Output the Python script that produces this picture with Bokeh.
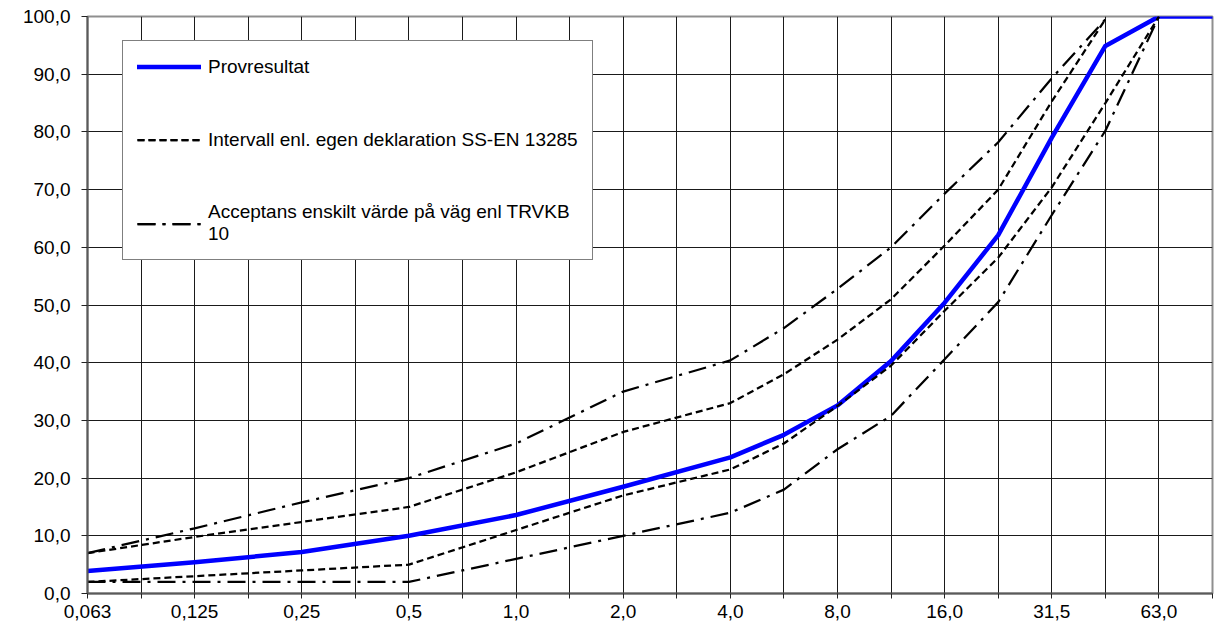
from bokeh.plotting import figure
from bokeh.models import FixedTicker, Legend, LegendItem, ColumnDataSource
from bokeh.embed import file_html
from bokeh.resources import INLINE

# ---- data -------------------------------------------------------------
sieve_sizes = ["0,063", "0,09", "0,125", "0,18", "0,25", "0,355", "0,5", "0,71",
               "1,0", "1,4", "2,0", "2,8", "4,0", "5,6", "8,0", "11,2",
               "16,0", "22,4", "31,5", "45,0", "63,0", "90,0"]
x_tick_labels = ["0,063", "", "0,125", "", "0,25", "", "0,5", "",
                 "1,0", "", "2,0", "", "4,0", "", "8,0", "",
                 "16,0", "", "31,5", "", "63,0", ""]
y_ticks = [0, 10, 20, 30, 40, 50, 60, 70, 80, 90, 100]
y_tick_labels = ["0,0", "10,0", "20,0", "30,0", "40,0", "50,0",
                 "60,0", "70,0", "80,0", "90,0", "100,0"]

data_sieves = ["0,063", "0,125", "0,25", "0,5", "1,0", "2,0", "4,0", "5,6",
               "8,0", "11,2", "16,0", "22,4", "31,5", "45,0", "63,0", "90,0"]
provresultat = [3.9, 5.4, 7.2, 10.0, 13.6, 18.5, 23.6, 27.5,
                32.6, 40.3, 50.4, 62.1, 79.0, 94.9, 100.0, 100.0]
intervall_upper = [7.0, 9.8, 12.4, 15.0, 21.0, 28.0, 33.0, 38.0,
                   44.0, 51.0, 60.3, 70.0, 85.3, 99.5]
intervall_lower = [2.0, 3.0, 4.0, 5.0, 11.0, 17.0, 21.5, 26.0,
                   32.5, 39.5, 49.0, 58.2, 70.4, 85.0, 100.0]
acceptans_upper = [7.0, 11.3, 15.8, 20.0, 26.0, 35.0, 40.4, 46.0,
                   52.8, 60.0, 69.3, 78.2, 89.3, 99.5]
acceptans_lower = [2.0, 2.0, 2.0, 2.0, 6.0, 10.0, 14.0, 18.0,
                   25.0, 30.8, 40.6, 50.5, 65.6, 80.2, 100.0]

labels = ["Provresultat",
          "Intervall enl. egen deklaration SS-EN 13285",
          "Acceptans enskilt värde på väg enl TRVKB\n10"]

# ---- helpers ----------------------------------------------------------
pos = {s: i for i, s in enumerate(sieve_sizes)}


def src(values):
    return ColumnDataSource(dict(x=[pos[s] for s in data_sieves[:len(values)]],
                                 y=values))


FONT = "Liberation Sans"

p = figure(frame_width=1125, frame_height=577,
           x_range=(0, len(sieve_sizes) - 1), y_range=(0, 100),
           output_backend="svg", toolbar_location=None,
           min_border_left=87, min_border_right=3, min_border_top=16,
           min_border_bottom=33, background_fill_color="white",
           border_fill_color="white")

p.outline_line_color = "#8f8f8f"
p.outline_line_width = 2

xt = FixedTicker(ticks=list(range(len(sieve_sizes))))
yt = FixedTicker(ticks=y_ticks)
p.xaxis.ticker = xt
p.yaxis.ticker = yt
p.xgrid.ticker = xt
p.ygrid.ticker = yt
p.xaxis.major_label_overrides = {i: t for i, t in enumerate(x_tick_labels)}
p.yaxis.major_label_overrides = {v: t for v, t in zip(y_ticks, y_tick_labels)}

for ax in (p.xaxis, p.yaxis):
    ax.axis_line_color = "#5a5a5a"
    ax.axis_line_width = 2
    ax.major_tick_line_color = "#222222"
    ax.major_tick_in = 0
    ax.minor_tick_line_color = None
    ax.major_label_text_font = FONT
    ax.major_label_text_font_size = "19px"
    ax.major_label_text_color = "black"
p.yaxis.major_tick_out = 6
p.yaxis.major_label_standoff = 11
p.xaxis.major_tick_out = 5
p.xaxis.major_label_standoff = 6

for g in (p.xgrid, p.ygrid):
    g.grid_line_color = "#1a1a1a"
    g.grid_line_width = 1

r_blue = p.line("x", "y", source=src(provresultat), line_color="#0000ff",
                line_width=4.5, line_join="round", line_cap="round")
dash_style = dict(line_color="black", line_width=2.25, line_dash="7 4")
r_iu = p.line("x", "y", source=src(intervall_upper), **dash_style)
r_il = p.line("x", "y", source=src(intervall_lower), **dash_style)
dd_style = dict(line_color="black", line_width=2.25, line_dash="18 7 3 7")
r_au = p.line("x", "y", source=src(acceptans_upper), **dd_style)
r_al = p.line("x", "y", source=src(acceptans_lower), **dd_style)

legend = Legend(items=[LegendItem(label=labels[0], renderers=[r_blue]),
                       LegendItem(label=labels[1], renderers=[r_iu, r_il]),
                       LegendItem(label=labels[2], renderers=[r_au, r_al])],
                location=(35, 333), padding=14, spacing=50, margin=0,
                label_height=23, glyph_height=23, glyph_width=64,
                label_standoff=7, label_text_font=FONT,
                label_text_font_size="19px", label_text_color="black",
                border_line_color="black", border_line_width=1,
                background_fill_color="white", background_fill_alpha=1.0)
p.add_layout(legend)

open("out.html", "w").write(file_html(p, INLINE))
